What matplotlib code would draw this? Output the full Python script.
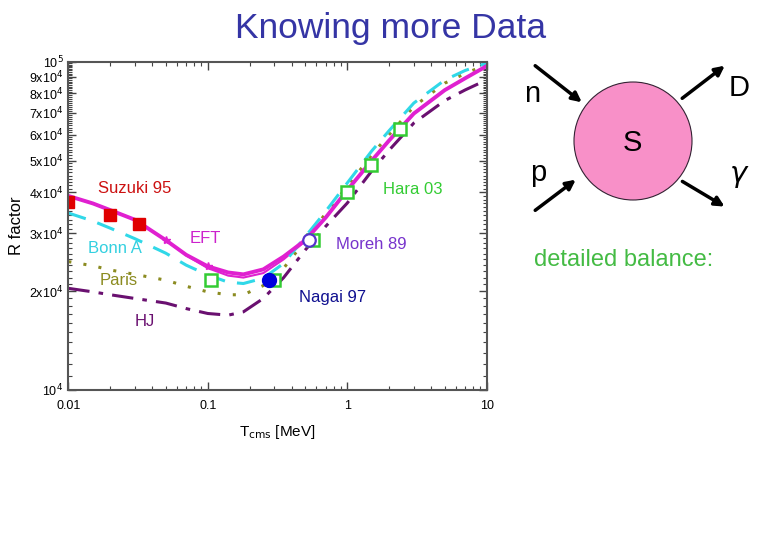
import numpy as np
import matplotlib
matplotlib.use("Agg")
import matplotlib.pyplot as plt
from matplotlib.ticker import FixedLocator, FixedFormatter, NullFormatter, LogLocator
from matplotlib.patches import Circle

plt.rcParams['font.family'] = ['Liberation Sans', 'DejaVu Sans']

# energies (MeV) for the theory curves
e_grid = [0.01, 0.015, 0.02, 0.03, 0.05, 0.07, 0.1, 0.14, 0.18, 0.25, 0.35,
          0.5, 0.7, 1, 1.5, 2, 3, 5, 7, 10]
eft = [39000, 37000, 35300, 33000, 28600, 25800, 23800, 22800, 22500, 23300,
       25500, 28600, 33500, 40600, 50000, 57600, 69500, 81900, 89000, 97000]
eft2 = [39000, 37000, 35300, 33000, 28600, 25700, 23500, 22300, 22000, 22700,
        25000, 28400, 33500, 40600, 50000, 57600, 69500, 81900, 89000, 97000]
bonn = [34600, 32700, 31100, 28900, 26100, 24000, 22400, 21300, 21100, 21900,
        24300, 29300, 35000, 42700, 53500, 61700, 74800, 87900, 94000, 99000]
paris = [24600, 23900, 23200, 22500, 21600, 20700, 19900, 19500, 19500, 20800,
         23500, 28500, 34500, 41700, 52000, 60000, 73000, 86000, 92000, 98000]
hj = [20400, 19900, 19500, 19000, 18400, 17700, 17100, 16900, 17300, 19000,
      22000, 26700, 31500, 37100, 46500, 53800, 65000, 76100, 82000, 88000]

# EFT star markers
eft_star_x = [0.05, 0.1]
eft_star_y = [28600, 23800]

# data sets
suzuki_x = [0.01, 0.02, 0.032]
suzuki_y = [37500, 34000, 32000]
hara_x = [0.105, 0.30, 0.57, 1.0, 1.48, 2.39]
hara_y = [21600, 21600, 28600, 40000, 48400, 62200]
nagai_x = [0.276]
nagai_y = [21700]
moreh_x = [0.535]
moreh_y = [28600]

y_ticks = [1e4, 2e4, 3e4, 4e4, 5e4, 6e4, 7e4, 8e4, 9e4, 1e5]
y_labels = ['10$^4$', '2x10$^4$', '3x10$^4$', '4x10$^4$', '5x10$^4$',
            '6x10$^4$', '7x10$^4$', '8x10$^4$', '9x10$^4$', '10$^5$']

fig = plt.figure(figsize=(7.8, 5.4), dpi=100)
ax = fig.add_axes([0.0876, 0.2778, 0.5364, 0.608])
ax.set_xscale('log')
ax.set_yscale('log')

c_eft = '#e020d0'
c_bonn = '#30d8e8'
c_paris = '#8b8b20'
c_hj = '#6a1070'

ax.plot(e_grid, eft2, color=c_eft, lw=1.5)
ax.plot(e_grid, hj, color=c_hj, lw=2.2, ls=(0, (7, 3, 1.5, 3)))
ax.plot(e_grid, paris, color=c_paris, lw=2.2, ls=(0, (1, 4)))
ax.plot(e_grid, bonn, color=c_bonn, lw=2.2, ls=(0, (6, 4)))
ax.plot(e_grid, eft, color=c_eft, lw=2.8)
ax.plot(eft_star_x, eft_star_y, ls='none', marker='*', ms=6, color=c_eft)

ax.plot(hara_x, hara_y, ls='none', marker='s', ms=8, mfc='white',
        mec='#33cc33', mew=1.8)
ax.plot(suzuki_x, suzuki_y, ls='none', marker='s', ms=9, color='#e00000')
ax.plot(nagai_x, nagai_y, ls='none', marker='o', ms=10, color='#0000dd')
ax.plot(moreh_x, moreh_y, ls='none', marker='o', ms=9, mfc='white',
        mec='#5533cc', mew=1.6)

fs = 12
ax.text(0.0163, 41200, 'Suzuki 95', color='#cc1111', fontsize=fs, va='center')
ax.text(0.0747, 29000, 'EFT', color='#cc22cc', fontsize=fs, va='center')
ax.text(0.0138, 26900, 'Bonn A', color='#33d0e0', fontsize=fs, va='center')
ax.text(0.0169, 21500, 'Paris', color='#8b8b20', fontsize=fs, va='center')
ax.text(0.030, 16200, 'HJ', color='#6a1070', fontsize=fs, va='center')
ax.text(1.80, 40900, 'Hara 03', color='#33cc33', fontsize=fs, va='center')
ax.text(0.83, 27700, 'Moreh 89', color='#7733cc', fontsize=fs, va='center')
ax.text(0.45, 19100, 'Nagai 97', color='#101090', fontsize=fs, va='center')

ax.set_xlim(0.01, 10)
ax.set_ylim(1e4, 1e5)
ax.xaxis.set_major_locator(FixedLocator([0.01, 0.1, 1, 10]))
ax.xaxis.set_major_formatter(FixedFormatter(['0.01', '0.1', '1', '10']))
ax.xaxis.set_minor_locator(LogLocator(base=10, subs=np.arange(2, 10)))
ax.xaxis.set_minor_formatter(NullFormatter())
ax.yaxis.set_major_locator(FixedLocator(y_ticks))
ax.yaxis.set_major_formatter(FixedFormatter(y_labels))
ax.yaxis.set_minor_locator(FixedLocator(np.arange(1e4, 1e5, 1e3)))
ax.yaxis.set_minor_formatter(NullFormatter())
ax.tick_params(which='both', direction='in', top=True, right=True,
               labelsize=9, color='#444444')
ax.tick_params(axis='x', pad=7)
ax.tick_params(which='major', length=6, width=1)
ax.tick_params(which='minor', length=3, width=0.8)
for s in ax.spines.values():
    s.set_color('#555555')
    s.set_linewidth(1.5)
ax.set_xlabel('T$_{\\rm cms}$ [MeV]', fontsize=11, labelpad=8)
ax.set_ylabel('R factor', fontsize=12, labelpad=4)

fig.text(0.501, 0.948, 'Knowing more Data', ha='center', va='center',
         fontsize=25.5, color='#3535a5')

# reaction diagram, in pixel units of the figure
dg = fig.add_axes([0, 0, 1, 1], zorder=-1)
dg.set_xlim(0, 780)
dg.set_ylim(540, 0)
dg.axis('off')
dg.add_patch(Circle((633, 141), 59, fc='#f890c8', ec='#332233', lw=0.8))
arrow = dict(arrowstyle='-|>', color='black', lw=2.5, mutation_scale=14)
dg.annotate('', xy=(584, 104), xytext=(533, 64), arrowprops=arrow)
dg.annotate('', xy=(578, 178), xytext=(533, 212), arrowprops=arrow)
dg.annotate('', xy=(727, 64), xytext=(680, 100), arrowprops=arrow)
dg.annotate('', xy=(727, 208), xytext=(680, 180), arrowprops=arrow)
dg.text(532, 94, 'n', fontsize=21, ha='center', va='center')
dg.text(538, 173, 'p', fontsize=21, ha='center', va='center')
dg.text(739, 88, 'D', fontsize=21, ha='center', va='center')
dg.text(739, 176, '$\\gamma$', fontsize=21, ha='center', va='center')
dg.text(632, 143, 'S', fontsize=21, ha='center', va='center')
dg.text(624, 260, 'detailed balance:', fontsize=17, ha='center',
        va='center', color='#44bb44')

fig.savefig('out.png', dpi=100)
